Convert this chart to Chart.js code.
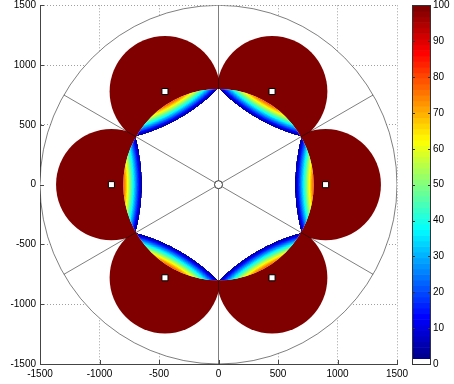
<!DOCTYPE html>
<html>
<head>
<meta charset="utf-8">
<script src="https://cdn.jsdelivr.net/npm/chart.js@4.4.0/dist/chart.umd.min.js"></script>
<style>
  html, body { margin: 0; padding: 0; background: #fff; }
</style>
</head>
<body>
<canvas id="c" width="454" height="384"></canvas>
<script>
// axis + colorbar ticks
const axisTicks = [-1500, -1000, -500, 0, 500, 1000, 1500];
const colorbarTicks = [0, 10, 20, 30, 40, 50, 60, 70, 80, 90, 100];

// stations (white squares) and the radial spokes
const stationX = [900, 450, -450, -900, -450, 450];
const stationY = [0, 779, 779, 0, -779, -779];
const spokeAngles = [30, 90, 150, 210, 270, 330];

// field
const outerRadius = 1500;
const innerRadius = 800;
const coverRadius = 465;   // dark red discs round each station
const crescentEdge = 640;  // where the coloured band fades to white, on the station axis
const crescentPeak = 80;   // value at the rim of the inner circle, on the station axis
const nColors = 64;

Chart.defaults.font.family = '"Liberation Sans", Arial, Helvetica, sans-serif';
Chart.defaults.font.size = 10;
Chart.defaults.color = '#000';

// matlab jet, lowest bin white
function jet(i) {
  if (i === 0) return '#ffffff';
  const t = i / (nColors - 1);
  const c = k => Math.round(255 * Math.max(0, Math.min(1, 1.5 - Math.abs(4 * t - k))));
  return 'rgb(' + c(3) + ',' + c(2) + ',' + c(1) + ')';
}

const fieldPlugin = {
  id: 'field',
  beforeDatasetsDraw(chart) {
    const { ctx, chartArea: a, scales: { x, y } } = chart;
    const x0 = x.getPixelForValue(0), y0 = y.getPixelForValue(0);
    const kx = (x.getPixelForValue(1000) - x0) / 1000;
    const ky = (y.getPixelForValue(1000) - y0) / 1000;

    ctx.save();
    ctx.beginPath();
    ctx.rect(a.left, a.top, a.width, a.height);
    ctx.clip();

    ctx.save();
    ctx.translate(x0, y0);
    ctx.scale(kx, ky);

    // white disc hides the grid
    ctx.fillStyle = '#fff';
    ctx.beginPath();
    ctx.arc(0, 0, outerRadius, 0, 2 * Math.PI);
    ctx.fill();

    // dark red discs, only outside the inner circle
    ctx.save();
    ctx.beginPath();
    ctx.rect(-2 * outerRadius, -2 * outerRadius, 4 * outerRadius, 4 * outerRadius);
    ctx.arc(0, 0, innerRadius, 0, 2 * Math.PI);
    ctx.clip('evenodd');
    ctx.fillStyle = jet(nColors - 1);
    stationX.forEach((sx, i) => {
      ctx.beginPath();
      ctx.arc(sx, stationY[i], coverRadius, 0, 2 * Math.PI);
      ctx.fill();
    });
    ctx.restore();

    // crescents inside the inner circle
    const half = Math.PI / stationX.length;
    const tipX = innerRadius * Math.cos(half);
    const cB = (crescentEdge * crescentEdge - innerRadius * innerRadius) / (2 * (crescentEdge - tipX));
    const rB = cB - crescentEdge;
    stationX.forEach((sx, i) => {
      const ang = Math.atan2(stationY[i], sx);
      const bx = cB * Math.cos(ang), by = cB * Math.sin(ang);
      const grad = ctx.createRadialGradient(bx, by, cB - innerRadius, bx, by, rB);
      for (let k = nColors - 1; k >= 0; k--) {
        const lo = k * 100 / nColors, hi = (k + 1) * 100 / nColors;
        if (lo >= crescentPeak) continue;
        grad.addColorStop(1 - Math.min(hi, crescentPeak) / crescentPeak, jet(k));
        grad.addColorStop(1 - lo / crescentPeak, jet(k));
      }
      ctx.save();
      ctx.beginPath();
      ctx.arc(0, 0, innerRadius, 0, 2 * Math.PI);
      ctx.clip();
      ctx.beginPath();
      ctx.arc(bx, by, rB, 0, 2 * Math.PI);
      ctx.fillStyle = grad;
      ctx.fill();
      ctx.restore();
    });
    ctx.restore();

    // outer circle + spokes, 1px
    ctx.strokeStyle = 'rgba(0,0,0,0.5)';
    ctx.lineWidth = 1;
    ctx.beginPath();
    ctx.ellipse(x0, y0, outerRadius * kx, Math.abs(outerRadius * ky), 0, 0, 2 * Math.PI);
    ctx.stroke();
    spokeAngles.forEach(d => {
      const r = d * Math.PI / 180;
      ctx.beginPath();
      ctx.moveTo(x0, y0);
      ctx.lineTo(x.getPixelForValue(outerRadius * Math.cos(r)), y.getPixelForValue(outerRadius * Math.sin(r)));
      ctx.stroke();
    });
    ctx.restore();
  },
  afterDatasetsDraw(chart) {
    // small inward ticks on left and bottom axes
    const { ctx, chartArea: a, scales: { x, y } } = chart;
    ctx.save();
    ctx.strokeStyle = '#444';
    ctx.lineWidth = 1;
    axisTicks.forEach(v => {
      const py = Math.round(y.getPixelForValue(v)) + 0.5;
      ctx.beginPath(); ctx.moveTo(a.left, py); ctx.lineTo(a.left + 4, py); ctx.stroke();
      const px = Math.round(x.getPixelForValue(v)) + 0.5;
      ctx.beginPath(); ctx.moveTo(px, a.bottom); ctx.lineTo(px, a.bottom - 4); ctx.stroke();
    });
    ctx.restore();
  }
};

const colorbarPlugin = {
  id: 'colorbar',
  afterDraw(chart) {
    const { ctx } = chart;
    const cb = chart.scales.cb;
    const left = Math.round(cb.left) + 15, w = 19;
    const top = Math.round(cb.getPixelForValue(100)), bottom = Math.round(cb.getPixelForValue(0));
    ctx.save();
    for (let i = 0; i < nColors; i++) {
      const y1 = cb.getPixelForValue(i * 100 / nColors);
      const y2 = cb.getPixelForValue((i + 1) * 100 / nColors);
      ctx.fillStyle = jet(i);
      ctx.fillRect(left, y2, w, y1 - y2 + 0.6);
    }
    ctx.strokeStyle = '#333';
    ctx.lineWidth = 1;
    ctx.strokeRect(left + 0.5, top + 0.5, w - 1, bottom - top);
    colorbarTicks.forEach(v => {
      const py = Math.round(cb.getPixelForValue(v)) + 0.5;
      ctx.beginPath(); ctx.moveTo(left, py); ctx.lineTo(left + 3, py); ctx.stroke();
      ctx.beginPath(); ctx.moveTo(left + w - 3, py); ctx.lineTo(left + w, py); ctx.stroke();
    });
    ctx.restore();
  }
};

const plainTicks = list => scale => { scale.ticks = list.map(v => ({ value: v })); };
const axisGrid = { color: '#a0a0a0', drawTicks: false };
const axisBorder = { display: true, color: '#444', dash: [1, 2] };

new Chart(document.getElementById('c'), {
  type: 'scatter',
  data: {
    datasets: [
      {
        data: stationX.map((v, i) => ({ x: v, y: stationY[i] })),
        pointStyle: 'rect',
        pointRadius: 4.3,
        pointBackgroundColor: '#fff',
        pointBorderColor: '#000',
        pointBorderWidth: 1
      },
      {
        data: [{ x: 0, y: 0 }],
        pointStyle: 'circle',
        pointRadius: 4,
        pointBackgroundColor: '#fff',
        pointBorderColor: '#333',
        pointBorderWidth: 1
      }
    ]
  },
  options: {
    responsive: false,
    animation: false,
    events: [],
    layout: { padding: { top: 5, right: 0, bottom: 0, left: 0 } },
    plugins: { legend: { display: false }, tooltip: { enabled: false } },
    scales: {
      x: {
        type: 'linear', position: 'bottom', min: -1500, max: 1500,
        afterBuildTicks: plainTicks(axisTicks),
        ticks: { padding: 4, maxRotation: 0, callback: v => String(v) },
        grid: axisGrid, border: axisBorder,
        afterFit(s) { s.height = 20; s.paddingLeft = 0; s.paddingRight = 0; }
      },
      y: {
        type: 'linear', position: 'left', min: -1500, max: 1500,
        afterBuildTicks: plainTicks(axisTicks),
        ticks: { padding: 4, callback: v => String(v) },
        grid: axisGrid, border: axisBorder,
        afterFit(s) { s.width = 40; s.paddingTop = 0; s.paddingBottom = 0; }
      },
      cb: {
        type: 'linear', position: 'right', min: 0, max: 100,
        afterBuildTicks: plainTicks(colorbarTicks),
        ticks: { padding: 36, callback: v => String(v) },
        grid: { display: false, drawTicks: false },
        border: { display: false },
        afterFit(s) { s.width = 57; s.paddingTop = 0; s.paddingBottom = 0; }
      }
    }
  },
  plugins: [fieldPlugin, colorbarPlugin]
});
</script>
</body>
</html>
